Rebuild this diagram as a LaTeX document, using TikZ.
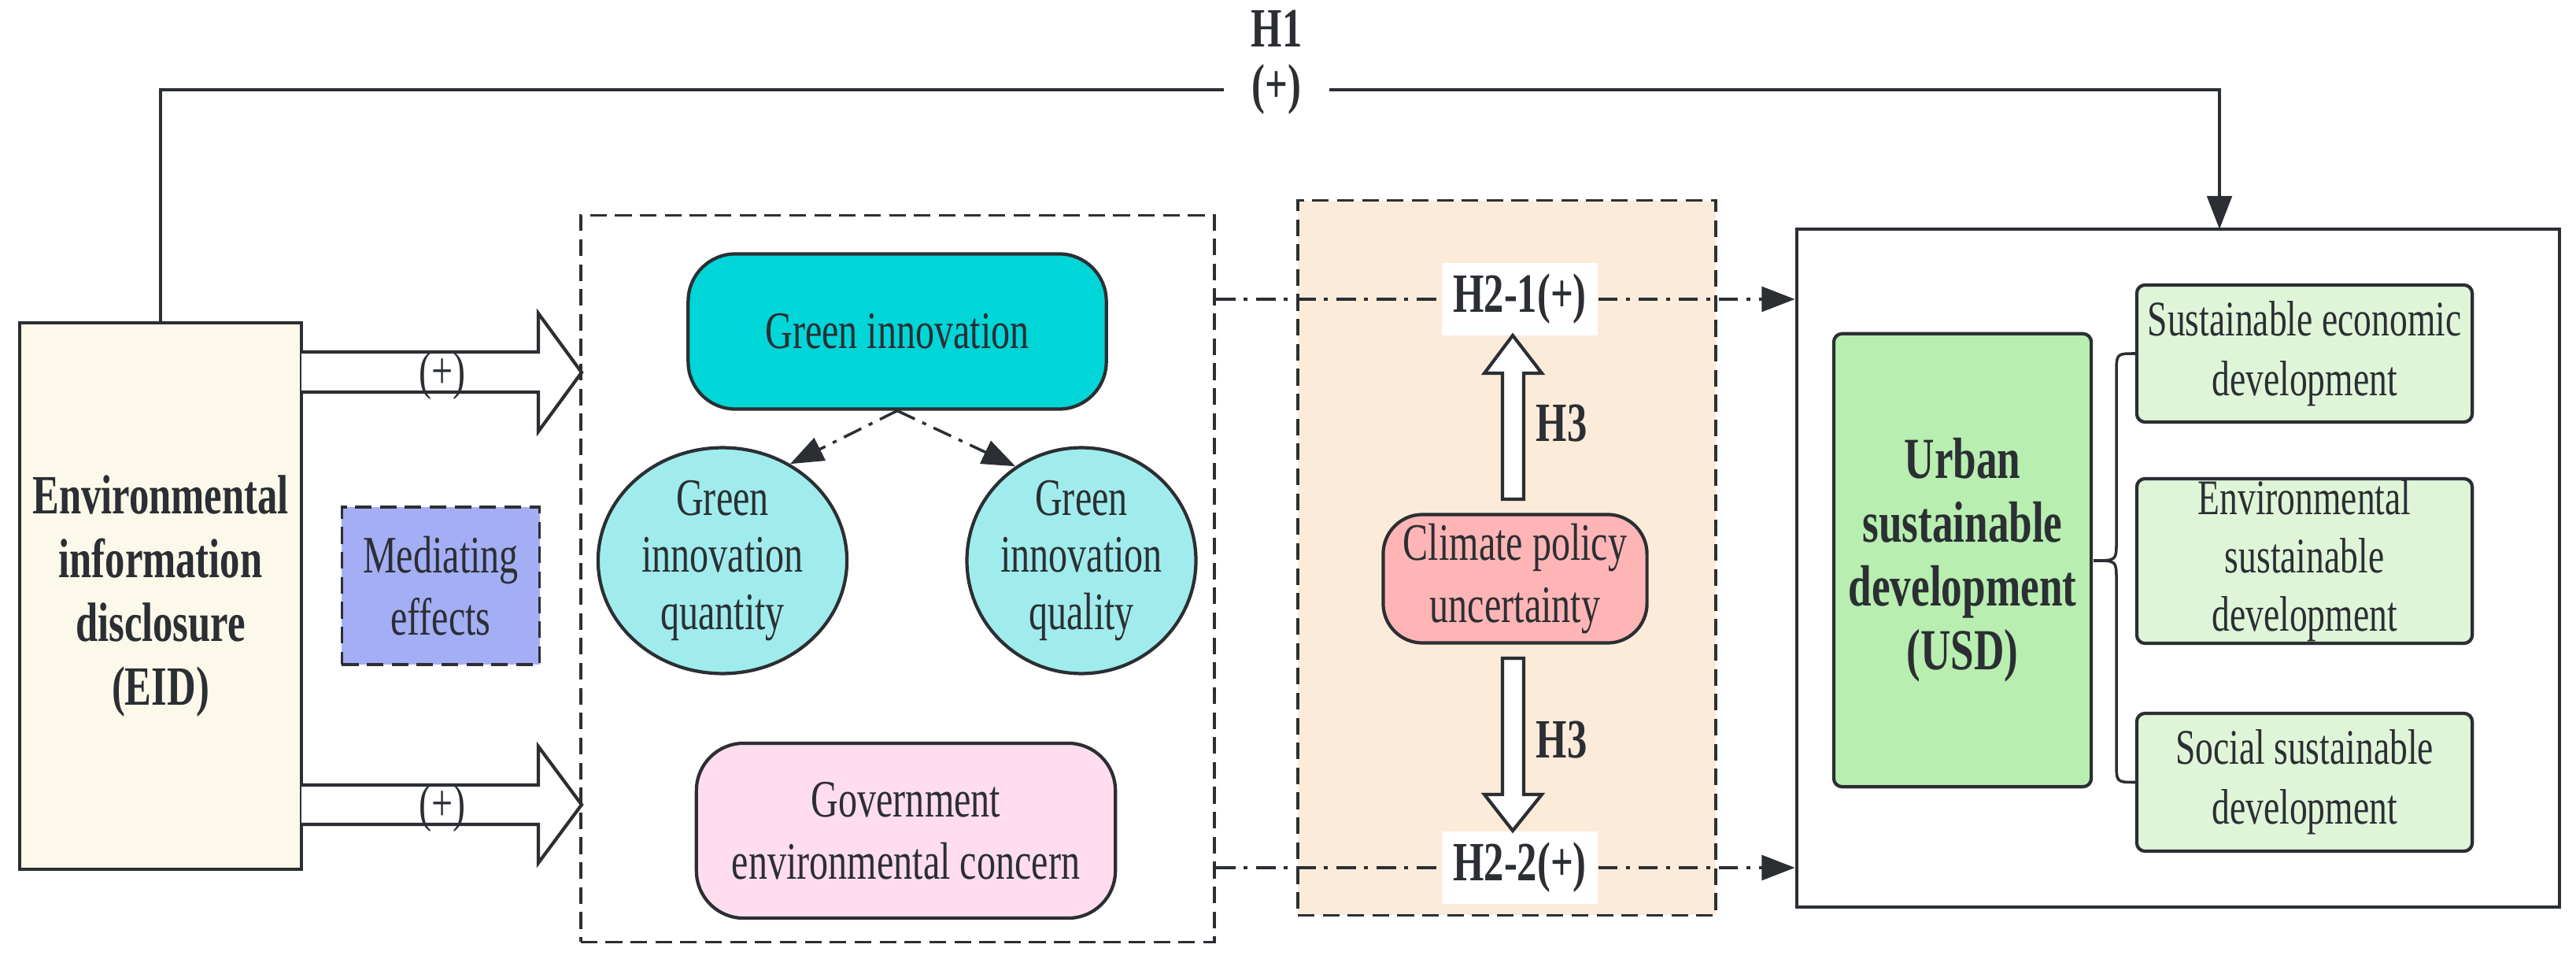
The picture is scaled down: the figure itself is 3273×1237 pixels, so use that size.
\documentclass[tikz,border=0pt]{standalone}
\usepackage{fontspec}
\setmainfont{Liberation Serif}[FakeStretch=0.72]
\usetikzlibrary{arrows.meta,shapes.geometric}
\definecolor{ln}{HTML}{2B2F33}
\definecolor{eidc}{HTML}{FCF8EA}
\definecolor{medc}{HTML}{A4AEF5}
\definecolor{gic}{HTML}{00D5D8}
\definecolor{elc}{HTML}{A0ECEC}
\definecolor{govc}{HTML}{FFDDEE}
\definecolor{orc}{HTML}{FDEBDA}
\definecolor{clc}{HTML}{FFB5B5}
\definecolor{urc}{HTML}{B8EEB0}
\definecolor{rbc}{HTML}{DFF5D8}
\begin{document}
\begin{tikzpicture}[x=0.01cm,y=-0.01cm,
  every node/.style={text=ln,font=\fontsize{19}{22.5}\selectfont,align=center,inner sep=0pt},
  box/.style={draw=ln,line width=1.2pt,rectangle},
  rbox/.style={box,rounded corners=0.6cm},
  dbox/.style={draw=ln,line width=1pt,dash pattern=on 6pt off 3pt},
  bld/.style={font=\bfseries\fontsize{20}{23}\selectfont},
  dd/.style={draw=ln,line width=1pt,dash pattern=on 7pt off 3pt on 1.5pt off 3pt},
  tip/.style={-{Triangle[length=12pt,width=9pt]}},
  fat/.style={draw=ln,line width=1.2pt,fill=white,line join=miter},
  rb/.style={box,fill=rbc,rounded corners=3pt,minimum width=4.26cm,font=\fontsize{18}{21.5}\selectfont}]
\useasboundingbox (0,0) rectangle (3273,1237);
% containers
\node[dbox,fill=white,minimum width=8.05cm,minimum height=9.22cm] (big) at (1140.5,735) {};
\node[dbox,fill=orc,minimum width=5.31cm,minimum height=9.07cm] (orb) at (1914.5,708.5) {};
\node[draw=ln,line width=1.2pt,minimum width=9.69cm,minimum height=8.61cm] (usd) at (2767.5,721.5) {};
% main nodes
\node[box,fill=eidc,minimum width=3.58cm,minimum height=6.94cm,bld] (eid) at (204,757) {Environmental\\information\\disclosure\\(EID)};
\node[dbox,fill=medc,minimum width=2.51cm,minimum height=2.0cm] (med) at (560,744) {Mediating\\effects};
\node[rbox,fill=gic,minimum width=5.31cm,minimum height=1.97cm] (gi) at (1140,421) {Green innovation};
\node[ellipse,draw=ln,line width=1.2pt,fill=elc,minimum width=3.16cm,minimum height=2.24cm,font=\fontsize{19}{20.5}\selectfont] (e1) at (918,712) {Green\\innovation\\quantity};
\node[ellipse,draw=ln,line width=1.2pt,fill=elc,minimum width=2.76cm,minimum height=2.24cm,font=\fontsize{19}{20.5}\selectfont] (e2) at (1374,712) {Green\\innovation\\quality};
\node[rbox,fill=govc,minimum width=5.32cm,minimum height=2.22cm] (gov) at (1151,1055) {Government\\environmental concern};
\node[rbox,fill=clc,rounded corners=0.5cm,minimum width=3.35cm,minimum height=1.63cm] (cl) at (1925,735) {Climate policy\\uncertainty};
\node[fill=white,inner sep=4pt,bld] (h21) at (1931,380) {H2-1(+)};
\node[fill=white,inner sep=4pt,bld] (h22) at (1931,1102) {H2-2(+)};
\node[box,fill=urc,rounded corners=3pt,minimum width=3.27cm,minimum height=5.75cm,font=\bfseries\fontsize{21}{23}\selectfont] (ur) at (2493.5,711.5) {Urban\\sustainable\\development\\(USD)};
\node[rb,minimum height=1.74cm] (r1) at (2928,449) {Sustainable economic\\development};
\node[rb,minimum height=2.09cm,font=\fontsize{18}{21}\selectfont] (r2) at (2928,712.5) {Environmental\\sustainable\\development};
\node[rb,minimum height=1.75cm] (r3) at (2928,993.5) {Social sustainable\\development};
% H1
\node[bld] (h1t) at (1622,36) {H1};
\node[bld,minimum width=1.33cm] (h1) at (1622,114) {(+)};
\coordinate (h1in) at (2820,291);
\draw[ln,line width=1pt] (eid.north) |- (h1.west);
\draw[ln,line width=1pt,tip] (h1.east) -| (h1in);
% fat arrows
\draw[fat] (383,447) -- (684,447) -- (684,398) -- (739,473) -- (684,548) -- (684,498) -- (383,498);
\node (p1) at (562,477) {(+)};
\draw[fat] (383,997) -- (684,997) -- (684,948) -- (739,1022) -- (684,1096) -- (684,1047) -- (383,1047);
\node (p2) at (562,1026) {(+)};
\draw[fat] (1909,634) -- (1909,474) -- (1886,474) -- (1922,426) -- (1959,474) -- (1936,474) -- (1936,634) -- cycle;
\draw[fat] (1909,836) -- (1909,1009) -- (1886,1009) -- (1922,1055) -- (1959,1009) -- (1936,1009) -- (1936,836) -- cycle;
\node[bld] (h3a) at (1984,538) {H3};
\node[bld] (h3b) at (1984,940) {H3};
% dash-dot connectors
\draw[dd] (big.east |- h21) -- (h21.west);
\draw[dd,tip] (h21.east) -- (usd.west |- h21);
\draw[dd] (big.east |- h22) -- (h22.west);
\draw[dd,tip] (h22.east) -- (usd.west |- h22);
\draw[dd,tip] (gi.south) -- (e1.55);
\draw[dd,tip] (gi.south) -- (e2.125);
% brace
\draw[ln,line width=1pt] (r1.west) .. controls (2689,449) .. (2689,475) -- (2689,688) .. controls (2689,712) .. (2660,712) .. controls (2689,712) .. (2689,736) -- (2689,968) .. controls (2689,993.5) .. (r3.west);
\end{tikzpicture}
\end{document}
